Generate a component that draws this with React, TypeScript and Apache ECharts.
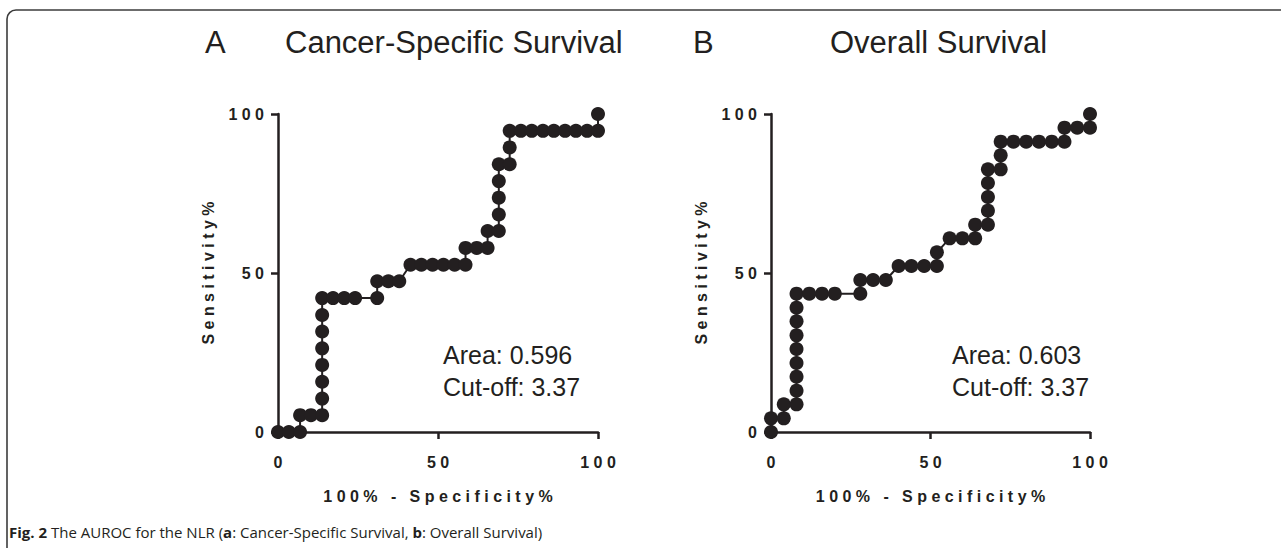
import React, { useEffect, useRef } from "react";
import * as echarts from "echarts";

// Panel A: Cancer-Specific Survival (100% - Specificity%, Sensitivity%)
const csx = [0, 3.4, 6.9, 6.9, 10.3, 13.8, 13.8, 13.8, 13.8, 13.8, 13.8, 13.8, 13.8, 17.2, 20.7, 24.1, 31.0, 31.0, 34.5, 37.9, 41.4, 44.8, 48.3, 51.7, 55.2, 58.6, 58.6, 62.1, 65.5, 65.5, 69.0, 69.0, 69.0, 69.0, 69.0, 72.4, 72.4, 72.4, 75.9, 79.3, 82.8, 86.2, 89.7, 93.1, 96.6, 100, 100];
const csy = [0, 0, 0, 5.3, 5.3, 5.3, 10.5, 15.8, 21.1, 26.3, 31.6, 36.8, 42.1, 42.1, 42.1, 42.1, 42.1, 47.4, 47.4, 47.4, 52.6, 52.6, 52.6, 52.6, 52.6, 52.6, 57.9, 57.9, 57.9, 63.2, 63.2, 68.4, 73.7, 78.9, 84.2, 84.2, 89.5, 94.7, 94.7, 94.7, 94.7, 94.7, 94.7, 94.7, 94.7, 94.7, 100];

// Panel B: Overall Survival
const osx = [0, 0, 4, 4, 8, 8, 8, 8, 8, 8, 8, 8, 8, 12, 16, 20, 28, 28, 32, 36, 40, 44, 48, 52, 52, 56, 60, 64, 64, 68, 68, 68, 68, 68, 72, 72, 72, 76, 80, 84, 88, 92, 92, 96, 100, 100];
const osy = [0, 4.3, 4.3, 8.7, 8.7, 13.0, 17.4, 21.7, 26.1, 30.4, 34.8, 39.1, 43.5, 43.5, 43.5, 43.5, 43.5, 47.8, 47.8, 47.8, 52.2, 52.2, 52.2, 52.2, 56.5, 60.9, 60.9, 60.9, 65.2, 65.2, 69.6, 73.9, 78.3, 82.6, 82.6, 87.0, 91.3, 91.3, 91.3, 91.3, 91.3, 91.3, 95.7, 95.7, 95.7, 100];

const panelLetters = ["A", "B"];
const panelTitles = ["Cancer-Specific Survival", "Overall Survival"];
const areaTexts = ["Area: 0.596", "Area: 0.603"];
const cutoffTexts = ["Cut-off: 3.37", "Cut-off: 3.37"];
const xAxisName = "100% - Specificity%";
const yAxisName = "Sensitivity%";
const caption = "{b|Fig. 2} The AUROC for the NLR ({b|a}: Cancer-Specific Survival, {b|b}: Overall Survival)";

const INK = "#231f20";
const SANS = "'Liberation Sans', Arial, Helvetica, sans-serif";
const spaced = (s: string) => s.split("").join(" ");

function pairs(xs: number[], ys: number[]) {
  return xs.map((x, i) => [x, ys[i]]);
}

function axisCommon(name: string, isX: boolean, gridIndex: number) {
  return {
    type: "value",
    gridIndex,
    min: 0,
    max: 100,
    interval: 50,
    name: spaced(name),
    nameLocation: "middle",
    nameGap: isX ? 56 : 62,
    nameTextStyle: { fontFamily: SANS, fontWeight: "bold", fontSize: 16, color: INK },
    axisLine: { show: true, onZero: false, lineStyle: { color: INK, width: 2.5 } },
    axisTick: { show: true, inside: false, length: 7, lineStyle: { color: INK, width: 2.5 } },
    splitLine: { show: false },
    axisLabel: {
      fontFamily: SANS,
      fontWeight: "bold",
      fontSize: 16,
      color: INK,
      margin: isX ? 22 : 14,
      formatter: (v: number) => spaced(String(v)),
    },
  };
}

export default function App() {
  const ref = useRef<HTMLDivElement>(null);
  useEffect(() => {
    if (!ref.current) return;
    const chart = echarts.init(ref.current, undefined, { renderer: "svg" });
    const grids = [
      { left: 278, right: 683, top: 114, bottom: 116 },
      { left: 771, right: 191, top: 114, bottom: 116 },
    ];
    const letterX = [205, 693];
    const titleX = [285, 830];
    const noteX = [443, 952];
    const graphics: any[] = [
      {
        type: "rect",
        shape: { x: 7, y: 10, width: 1400, height: 800, r: [9, 0, 0, 0] },
        style: { fill: "none", stroke: "#3c3c3c", lineWidth: 1.6 },
        silent: true,
      },
    ];
    for (let i = 0; i < 2; i++) {
      graphics.push({
        type: "text",
        x: letterX[i],
        y: 42,
        style: { text: panelLetters[i], font: `31px ${SANS}`, fill: INK, textAlign: "left", textVerticalAlign: "middle", align: "left", verticalAlign: "middle" },
      });
      graphics.push({
        type: "text",
        x: titleX[i],
        y: 42,
        style: { text: panelTitles[i], font: `31px ${SANS}`, fill: INK, textAlign: "left", textVerticalAlign: "middle", align: "left", verticalAlign: "middle" },
      });
      graphics.push({
        type: "text",
        x: noteX[i],
        y: 355,
        style: { text: areaTexts[i], font: `25px ${SANS}`, fill: INK, textAlign: "left", textVerticalAlign: "middle", align: "left", verticalAlign: "middle" },
      });
      graphics.push({
        type: "text",
        x: noteX[i],
        y: 387,
        style: { text: cutoffTexts[i], font: `25px ${SANS}`, fill: INK, textAlign: "left", textVerticalAlign: "middle", align: "left", verticalAlign: "middle" },
      });
    }
    graphics.push({
      type: "text",
      x: 9,
      y: 532,
      style: {
        text: caption,
        fontFamily: "'Open Sans', 'Noto Sans', sans-serif",
        fontSize: 15,
        fill: INK,
        textAlign: "left",
        textVerticalAlign: "middle",
        align: "left",
        verticalAlign: "middle",
        rich: { b: { fontWeight: "bold", fontFamily: "'Open Sans', 'Noto Sans', sans-serif", fontSize: 15, fill: INK } },
      },
    });

    const seriesCommon = {
      type: "line",
      symbol: "circle",
      symbolSize: 14,
      showSymbol: true,
      clip: false,
      itemStyle: { color: INK },
      lineStyle: { color: INK, width: 2 },
      z: 5,
    };

    chart.setOption({
      animation: false,
      backgroundColor: "#ffffff",
      grid: grids,
      xAxis: [axisCommon(xAxisName, true, 0), axisCommon(xAxisName, true, 1)],
      yAxis: [axisCommon(yAxisName, false, 0), axisCommon(yAxisName, false, 1)],
      series: [
        { ...seriesCommon, name: panelTitles[0], xAxisIndex: 0, yAxisIndex: 0, data: pairs(csx, csy) },
        { ...seriesCommon, name: panelTitles[1], xAxisIndex: 1, yAxisIndex: 1, data: pairs(osx, osy) },
      ],
      graphic: graphics,
    });
    return () => chart.dispose();
  }, []);
  return <div ref={ref} style={{ position: "absolute", left: 0, top: 0, width: 1281, height: 548 }} />;
}
